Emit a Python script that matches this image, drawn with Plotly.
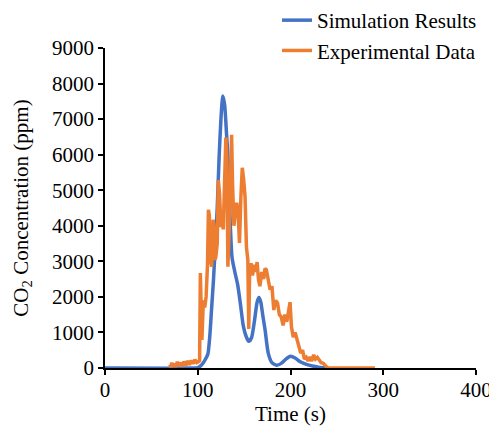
import plotly.graph_objects as go

# Simulation results (time s, CO2 ppm)
sim_t = [0, 95, 100, 103, 106, 109, 111, 113, 115, 117, 119, 121, 123, 125, 127, 129, 131, 133,
         135, 137, 140, 143, 146, 149, 152, 155, 158, 161, 164, 166, 168, 170, 172.6, 176, 180,
         185, 190, 195, 200, 205, 210, 215, 220, 225, 230, 235, 240]
sim_v = [0, 0, 10, 60, 150, 280, 400, 900, 1700, 2500, 3500, 4500, 5900, 7000, 7650, 7400, 6600, 5700,
         4100, 3100, 2700, 2350, 1800, 1200, 900, 750, 850, 1300, 1850, 1980, 1850, 1500, 1070, 420, 150,
         80, 130, 250, 330, 280, 180, 120, 80, 50, 25, 10, 0]

# Experimental data (time s, CO2 ppm)
exp_t = [70, 71, 72, 73, 75, 76, 78, 80, 82, 83, 85, 87, 89, 91, 93, 95, 97, 99, 101, 102,
         102.8, 103.5, 104.5, 106, 107.5, 109, 110.5, 111.5, 112.5, 113, 114, 115, 116.5, 117.5,
         118.5, 119.5, 121, 122.2, 123.5, 125, 126.3, 127.5, 129, 130.3, 131.5, 132.5, 134, 135.5,
         136.5, 137.5, 139, 140.5, 142, 143.5, 145, 146.5, 148, 149.5, 151, 152.5, 154, 155, 156,
         157.5, 159, 161, 162.5, 164, 165.5, 167, 169, 171, 172.5, 174, 176, 178, 180, 182, 184,
         186, 188, 190, 192, 194, 196, 198, 199.5, 201, 203, 205, 207, 209, 211, 213, 215, 217,
         219, 221, 223, 225, 227, 229, 231, 233, 235, 237, 239, 241, 260, 291]
exp_v = [100, 20, 150, 50, 120, 30, 170, 60, 150, 40, 180, 70, 200, 90, 210, 120, 230, 150, 180, 200,
         2670, 1500, 790, 1900, 1700, 2000, 2900, 4450, 4300, 2950, 3000, 2850, 4170, 4000,
         3040, 3130, 3500, 5290, 4900, 3970, 4100, 3900, 5500, 6480, 5800, 2850, 4000, 6200,
         6560, 5200, 4000, 4360, 4650, 4400, 3520, 4800, 5630, 5300, 4820, 3400, 3040, 1100, 2800,
         2950, 2600, 2900, 2700, 2980, 2480, 2300, 2700, 2500, 2800, 2760, 2400, 2200, 2300, 1630, 1900,
         1830, 1500, 1440, 1200, 1500, 1300, 1630, 1850, 1160, 870, 1000, 830, 600, 420, 500, 250, 300,
         200, 310, 200, 370, 250, 300, 225, 150, 140, 80, 30, 0, 0, 0]

x_ticks = [0, 100, 200, 300, 400]
y_ticks = [0, 1000, 2000, 3000, 4000, 5000, 6000, 7000, 8000, 9000]

FONT = "Liberation Serif"
FS = 21

fig = go.Figure()
fig.add_trace(go.Scatter(x=sim_t, y=sim_v, mode="lines", name="Simulation Results",
                         line=dict(color="#4472C4", width=3.5, shape="spline", smoothing=0.6),
                         legendgroup="a"))
fig.add_trace(go.Scatter(x=exp_t, y=exp_v, mode="lines", name="Experimental Data",
                         line=dict(color="#ED7D31", width=3.5),
                         legendgroup="b"))

# the page body adds an 8px margin, so the figure is sized 8px smaller
fig.update_layout(
    width=489, height=418,
    margin=dict(l=97, r=21, t=40, b=58, autoexpand=False),
    paper_bgcolor="white", plot_bgcolor="white",
    font=dict(family=FONT, size=FS, color="black"),
    legend=dict(x=0.4636, y=1.15, xanchor="left", yanchor="top",
                traceorder="grouped", tracegroupgap=0,
                font=dict(family=FONT, size=FS, color="black"),
                bgcolor="rgba(0,0,0,0)"),
    xaxis=dict(range=[0, 400], tickvals=x_ticks, showgrid=False, zeroline=False,
               showline=True, linecolor="black", linewidth=1.5,
               ticks="outside", ticklen=5, tickcolor="black", tickwidth=1.5,
               tickfont=dict(family=FONT, size=FS), ticklabelstandoff=-3,
               title=dict(text="Time (s)", standoff=0, font=dict(family=FONT, size=FS))),
    yaxis=dict(range=[0, 9000], tickvals=y_ticks, showgrid=False, zeroline=False,
               showline=True, linecolor="black", linewidth=1.5,
               ticks="outside", ticklen=5, tickcolor="black", tickwidth=1.5,
               tickfont=dict(family=FONT, size=FS),
               title=dict(text="CO<sub>2</sub> Concentration (ppm)", standoff=18,
                          font=dict(family=FONT, size=FS))),
)

fig.write_html("out.html")
